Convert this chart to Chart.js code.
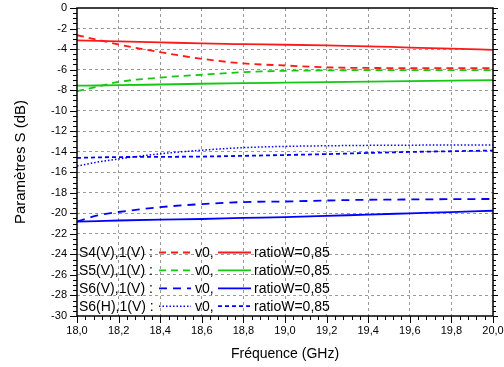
<!DOCTYPE html>
<html>
<head>
<meta charset="utf-8">
<script src="https://cdn.jsdelivr.net/npm/chart.js@4/dist/chart.umd.min.js"></script>
<style>
  html, body { margin: 0; padding: 0; background: #fff; overflow: hidden; }
  canvas { display: block; }
</style>
</head>
<body>
<canvas id="chart" width="504" height="367"></canvas>
<script>
// === Data ===
const freqs = [18.0, 18.1, 18.2, 18.4, 18.6, 18.8, 19.0, 19.2, 19.4, 19.6, 19.8, 20.0];

const s4v0     = [-2.65, -3.1, -3.55, -4.3, -4.95, -5.4, -5.6, -5.78, -5.84, -5.85, -5.85, -5.85];
const s4ratio  = [-3.15, -3.2, -3.25, -3.35, -3.45, -3.52, -3.58, -3.65, -3.73, -3.85, -3.95, -4.07];
const s5v0     = [-8.1, -7.65, -7.2, -6.78, -6.5, -6.25, -6.12, -6.08, -6.05, -6.05, -6.05, -6.05];
const s5ratio  = [-7.57, -7.55, -7.52, -7.45, -7.38, -7.32, -7.27, -7.22, -7.17, -7.12, -7.07, -7.02];
const s6vv0    = [-20.8, -20.2, -19.87, -19.4, -19.1, -18.9, -18.85, -18.75, -18.68, -18.65, -18.62, -18.6];
const s6vratio = [-20.8, -20.75, -20.7, -20.62, -20.55, -20.45, -20.37, -20.25, -20.12, -20.0, -19.88, -19.75];
const s6hv0    = [-15.4, -15.0, -14.7, -14.2, -13.85, -13.6, -13.48, -13.42, -13.38, -13.36, -13.35, -13.35];
const s6hratio = [-14.6, -14.55, -14.52, -14.5, -14.47, -14.4, -14.32, -14.23, -14.12, -14.02, -13.95, -13.88];

const legendRows = ["S4(V),1(V) :", "S5(V),1(V) :", "S6(V),1(V) :", "S6(H),1(V) :"];

const RED = "#ff1a1a", GREEN = "#14c814", BLUE = "#0000ff";

const toPts = (arr) => arr.map((v, i) => ({ x: freqs[i], y: v }));

function series(label, values, color, dash, width) {
  return {
    label,
    data: toPts(values),
    borderColor: color,
    borderWidth: width || 1.8,
    borderDash: dash,
    pointRadius: 0,
    fill: false,
    cubicInterpolationMode: "monotone"
  };
}

const datasets = [
  series("S4 v0", s4v0, RED, [7, 5]),
  series("S4 ratioW", s4ratio, RED, []),
  series("S5 v0", s5v0, GREEN, [7, 5]),
  series("S5 ratioW", s5ratio, GREEN, []),
  series("S6(V) v0", s6vv0, BLUE, [8, 6]),
  series("S6(V) ratioW", s6vratio, BLUE, []),
  series("S6(H) v0", s6hv0, BLUE, [1.5, 2], 1.5),
  series("S6(H) ratioW", s6hratio, BLUE, [4, 3])
];

// legend entries: [v0 dataset index, ratioW dataset index]
const legendPairs = [[0, 1], [2, 3], [4, 5], [6, 7]];

Chart.defaults.font.family = '"Liberation Sans", Arial, sans-serif';
Chart.defaults.color = "#000";

// === Frame, minor ticks and custom legend ===
const framePlugin = {
  id: "frame",
  afterDatasetsDraw(chart) {
    const ctx = chart.ctx;
    ctx.save();
    ctx.font = '14px "Liberation Sans", Arial, sans-serif';
    ctx.textBaseline = "middle";
    ctx.fillStyle = "#000";
    legendRows.forEach((txt, r) => {
      const y = 252.5 + r * 17.9;
      ctx.textAlign = "left";
      ctx.fillText(txt, 79, y + 1);
      const [a, b] = legendPairs[r];
      const da = chart.data.datasets[a], db = chart.data.datasets[b];
      ctx.strokeStyle = da.borderColor;
      ctx.lineWidth = da.borderWidth;
      ctx.setLineDash(da.borderDash);
      ctx.beginPath(); ctx.moveTo(159, y); ctx.lineTo(191, y); ctx.stroke();
      ctx.fillText("v0,", 195, y + 1);
      ctx.strokeStyle = db.borderColor;
      ctx.lineWidth = db.borderWidth;
      ctx.setLineDash(db.borderDash);
      ctx.beginPath(); ctx.moveTo(218, y); ctx.lineTo(251, y); ctx.stroke();
      ctx.fillText("ratioW=0,85", 254, y + 1);
    });
    ctx.restore();
  },
  afterDraw(chart) {
    const ctx = chart.ctx;
    const { left, right, top, bottom } = chart.chartArea;
    const xs = chart.scales.x, ys = chart.scales.y;
    ctx.save();
    ctx.setLineDash([]);
    ctx.strokeStyle = "#000";
    ctx.lineWidth = 1;
    ctx.beginPath();
    // x ticks every 0.04, major every 0.2
    for (let i = 0; i <= 50; i++) {
      const px = Math.round(xs.getPixelForValue(18 + i * 0.04)) + 0.5;
      const len = i % 5 === 0 ? 7 : 4;
      ctx.moveTo(px, bottom); ctx.lineTo(px, bottom + len);
    }
    // y ticks every 0.5, major every 2
    for (let i = 0; i <= 60; i++) {
      const py = Math.round(ys.getPixelForValue(-i * 0.5)) + 0.5;
      const len = i % 4 === 0 ? 7 : 4;
      ctx.moveTo(left, py); ctx.lineTo(left - len, py);
      const rl = i % 4 === 0 ? 5 : 3;
      ctx.moveTo(right, py); ctx.lineTo(right + rl, py);
    }
    ctx.stroke();
    ctx.lineWidth = 1.5;
    ctx.strokeRect(left, top, right - left, bottom - top);
    ctx.restore();
  }
};

new Chart(document.getElementById("chart"), {
  type: "line",
  data: { datasets },
  options: {
    responsive: false,
    animation: false,
    devicePixelRatio: 1,
    layout: { padding: { top: 8, right: 11, left: 0, bottom: 0 } },
    plugins: { legend: { display: false }, tooltip: { enabled: false } },
    scales: {
      x: {
        type: "linear",
        min: 18,
        max: 20,
        grid: {
          color: (c) => (c.tick && (c.tick.value <= 18.001 || c.tick.value >= 19.999) ? "transparent" : "#9a9a9a"),
          lineWidth: 1,
          drawTicks: false
        },
        border: { display: false, dash: [3, 3] },
        ticks: {
          stepSize: 0.2,
          padding: 8,
          maxRotation: 0,
          autoSkip: false,
          font: { size: 11 },
          callback: (v) => Number(v).toFixed(1).replace(".", ",")
        },
        title: {
          display: true,
          text: "Fréquence (GHz)",
          font: { size: 14 },
          padding: { top: 0, bottom: 4 }
        },
        afterFit(scale) {
          scale.height = 51;
          scale.paddingLeft = 0;
          scale.paddingRight = 0;
        }
      },
      y: {
        min: -30,
        max: 0,
        grid: {
          color: (c) => (c.tick && (c.tick.value === 0 || c.tick.value === -30) ? "transparent" : "#9a9a9a"),
          lineWidth: 1,
          drawTicks: false
        },
        border: { display: false, dash: [3, 3] },
        ticks: {
          stepSize: 2,
          padding: 10,
          font: { size: 11 }
        },
        title: {
          display: true,
          text: "Paramètres S (dB)",
          font: { size: 15 },
          padding: { top: 12, bottom: 0 }
        },
        afterFit(scale) {
          scale.width = 77;
          scale.paddingTop = 0;
          scale.paddingBottom = 0;
        }
      }
    }
  },
  plugins: [framePlugin]
});
</script>
</body>
</html>
